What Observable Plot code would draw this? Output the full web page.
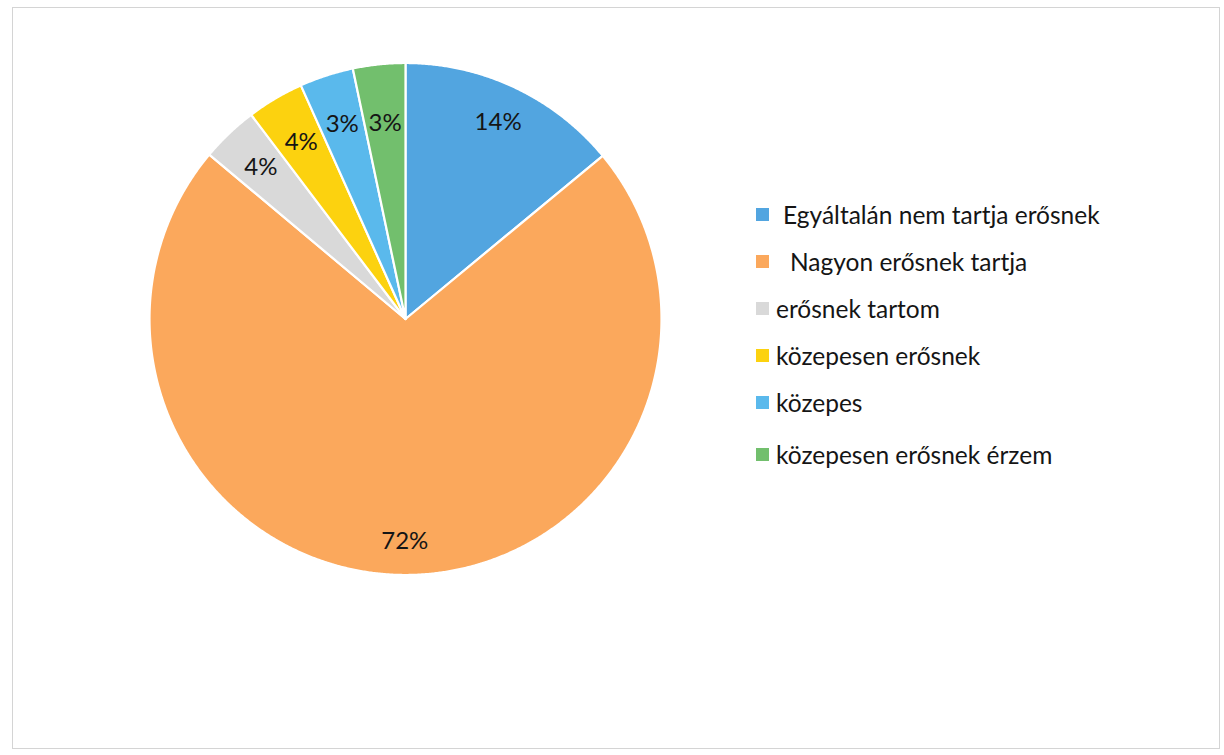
<!DOCTYPE html>
<html>
<head>
<meta charset="utf-8">
<script src="https://cdn.jsdelivr.net/npm/d3@7"></script>
<script src="https://cdn.jsdelivr.net/npm/@observablehq/plot@0.6"></script>
<style>
  html, body { margin: 0; padding: 0; background: #fff; }
  #wrap { position: relative; width: 1224px; height: 755px; overflow: hidden; background: #fff; }
  #frame { position: absolute; left: 12px; top: 7px; width: 1206px; height: 740px; border: 1px solid #d4d4d4; }
  #pie { position: absolute; left: 0; top: 0; }
  #legend { position: absolute; left: 756px; top: 191px; width: 440px; }
  .leg-swatches { margin: 0 !important; }
  .leg-swatches-columns .leg-swatch { height: 47px; padding-bottom: 0 !important; }
  .leg-swatch svg { margin-right: 7px !important; }
  .leg-swatch:nth-of-type(1) .leg-swatch-label { padding-left: 7px; }
  .leg-swatch:nth-of-type(2) .leg-swatch-label { padding-left: 14px; }
  .leg-swatch:nth-of-type(6) { margin-top: 5px; }
  .leg-swatch-label { overflow: visible !important; }
</style>
</head>
<body>
<div id="wrap">
  <div id="frame"></div>
  <div id="pie"></div>
  <div id="legend"></div>
</div>
<script>
const categories = [
  "Egyáltalán nem tartja erősnek",
  "Nagyon erősnek tartja",
  "erősnek tartom",
  "közepesen erősnek",
  "közepes",
  "közepesen erősnek érzem"
];
const values = [14.0, 72.1, 3.6, 3.6, 3.4, 3.3];
const colors = ["#52a5e0", "#fba85c", "#d9d9d9", "#fcd20f", "#5ab9ec", "#72bf6d"];

const FONT = "Lato, 'Open Sans', sans-serif";
const total = d3.sum(values);
const arcs = d3.pie().sort(null)(values);

// slice outlines (unit circle, angle 0 at 12 o'clock, clockwise)
const slices = arcs.flatMap((p, i) => {
  const pts = [{x: 0, y: 0, c: categories[i]}];
  const n = Math.max(4, Math.ceil((p.endAngle - p.startAngle) / 0.005));
  for (let k = 0; k <= n; k++) {
    const a = p.startAngle + (p.endAngle - p.startAngle) * k / n;
    pts.push({x: Math.sin(a), y: Math.cos(a), c: categories[i]});
  }
  return pts;
});

const labelR = [0.85, 0.87, 0.82, 0.8, 0.8, 0.77];
const labelData = arcs.map((p, i) => {
  const a = (p.startAngle + p.endAngle) / 2;
  return {
    x: labelR[i] * Math.sin(a),
    y: labelR[i] * Math.cos(a),
    text: Math.round(values[i] / total * 100) + "%"
  };
});

const R = 256;
const W = 810, H = 637;
const cx = 405, cy = 318.5;

const chart = Plot.plot({
  width: W,
  height: H,
  marginLeft: cx - R,
  marginRight: W - cx - R,
  marginTop: cy - R,
  marginBottom: H - cy - R,
  x: {domain: [-1, 1], axis: null},
  y: {domain: [-1, 1], axis: null},
  color: {domain: categories, range: colors},
  style: {background: "transparent", fontFamily: FONT},
  marks: [
    Plot.line(slices, {x: "x", y: "y", z: "c", fill: "c", stroke: "white", strokeWidth: 2.2, curve: "linear-closed"}),
    Plot.text(labelData, {x: "x", y: "y", text: "text", fontSize: 24, fill: "#151515", fontFamily: FONT})
  ]
});
document.getElementById("pie").appendChild(chart);

const legend = Plot.legend({
  color: {type: "ordinal", domain: categories, range: colors},
  legend: "swatches",
  columns: 1,
  swatchSize: 13,
  className: "leg",
  style: {fontFamily: FONT, fontSize: "24.5px", color: "#151515", background: "transparent"}
});
document.getElementById("legend").appendChild(legend);
</script>
</body>
</html>
